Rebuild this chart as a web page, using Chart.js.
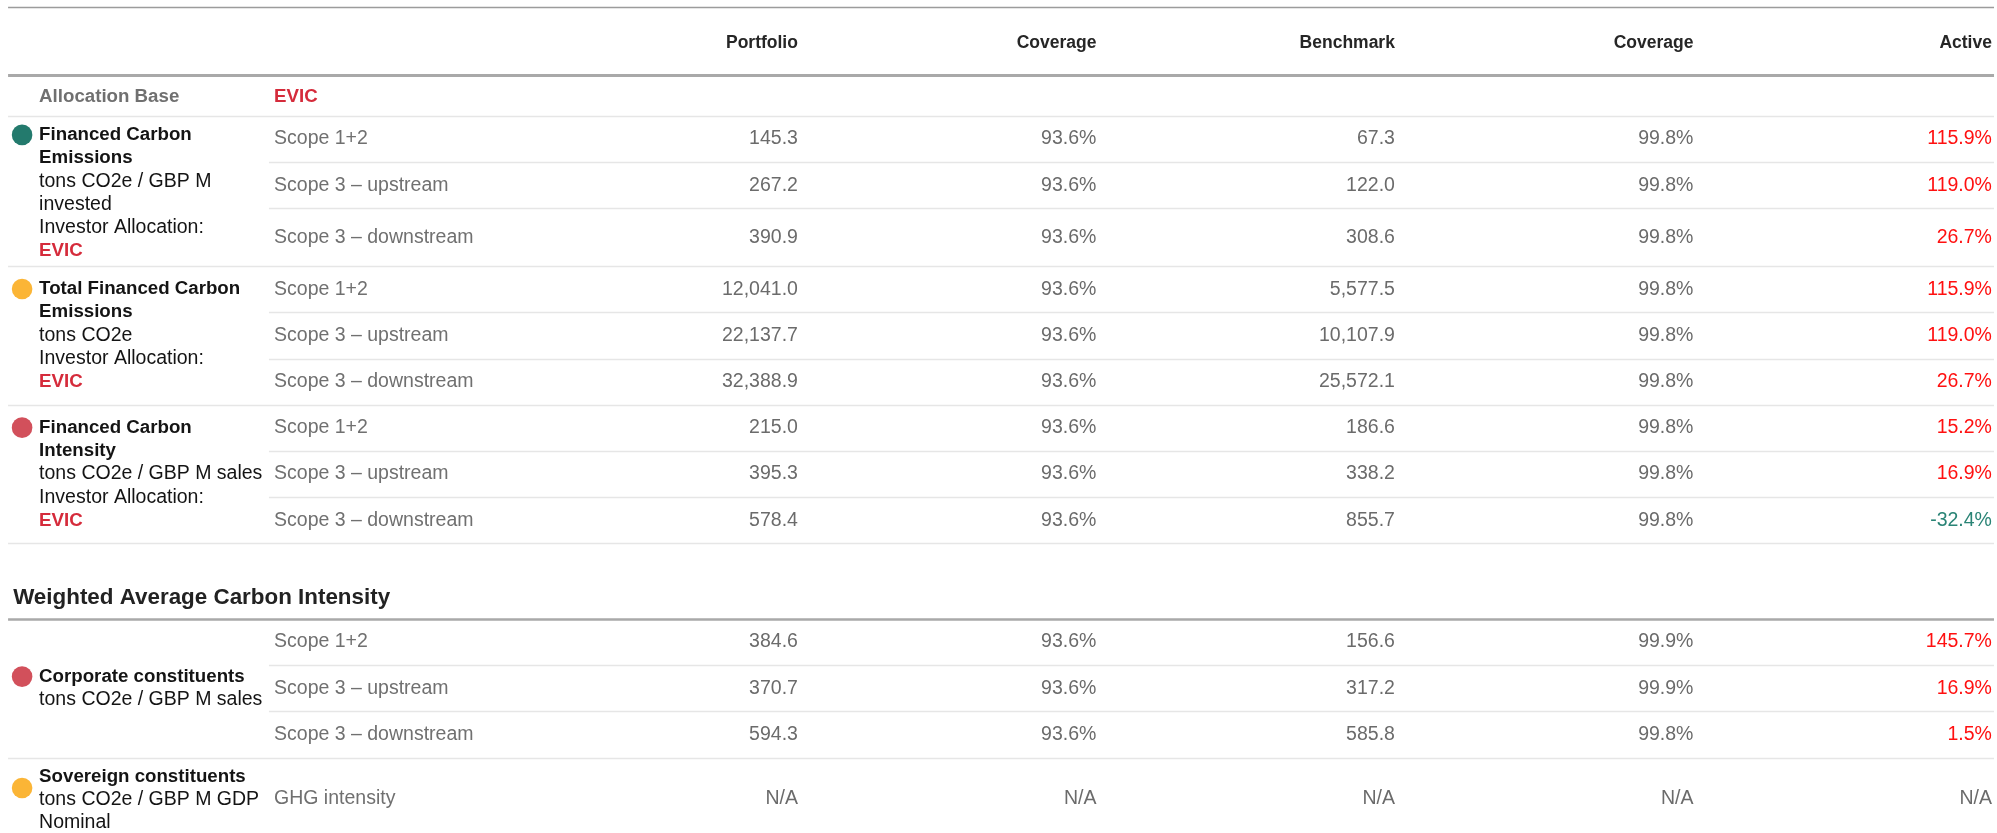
<!DOCTYPE html>
<html>
<head>
<meta charset="utf-8">
<title>Carbon metrics</title>
<script src="https://cdn.jsdelivr.net/npm/chart.js@4.4.1/dist/chart.umd.min.js"></script>
<style>
  html, body { margin: 0; padding: 0; background: #fff; }
  canvas { display: block; }
</style>
</head>
<body>
<canvas id="carbon-table" width="1997" height="833"></canvas>
<script>
// Titles and labels
const columnTitles = ['Portfolio', 'Coverage', 'Benchmark', 'Coverage', 'Active'];
const allocationLabel = 'Allocation Base';
const allocationBase = 'EVIC';
const sectionTitle = 'Weighted Average Carbon Intensity';

const groupTitles = [
    ['Financed Carbon', 'Emissions'],
    ['Total Financed Carbon', 'Emissions'],
    ['Financed Carbon', 'Intensity'],
    ['Corporate constituents'],
    ['Sovereign constituents']
];
const groupUnits = [
    ['tons CO2e / GBP M', 'invested', 'Investor Allocation:'],
    ['tons CO2e', 'Investor Allocation:'],
    ['tons CO2e / GBP M sales', 'Investor Allocation:'],
    ['tons CO2e / GBP M sales'],
    ['tons CO2e / GBP M GDP', 'Nominal']
];
const groupAllocation = ['EVIC', 'EVIC', 'EVIC', null, null];
const groupRowCounts = [3, 3, 3, 3, 1];

const scopeLabels = [
    'Scope 1+2', 'Scope 3 – upstream', 'Scope 3 – downstream',
    'Scope 1+2', 'Scope 3 – upstream', 'Scope 3 – downstream',
    'Scope 1+2', 'Scope 3 – upstream', 'Scope 3 – downstream',
    'Scope 1+2', 'Scope 3 – upstream', 'Scope 3 – downstream',
    'GHG intensity'
];

// Values (null = N/A)
const portfolio = [145.3, 267.2, 390.9, 12041.0, 22137.7, 32388.9, 215.0, 395.3, 578.4, 384.6, 370.7, 594.3, null];
const portfolioCoverage = [93.6, 93.6, 93.6, 93.6, 93.6, 93.6, 93.6, 93.6, 93.6, 93.6, 93.6, 93.6, null];
const benchmark = [67.3, 122.0, 308.6, 5577.5, 10107.9, 25572.1, 186.6, 338.2, 855.7, 156.6, 317.2, 585.8, null];
const benchmarkCoverage = [99.8, 99.8, 99.8, 99.8, 99.8, 99.8, 99.8, 99.8, 99.8, 99.9, 99.9, 99.8, null];
const active = [115.9, 119.0, 26.7, 115.9, 119.0, 26.7, 15.2, 16.9, -32.4, 145.7, 16.9, 1.5, null];

// Layout: x in value-column widths, y in data-row heights
const X = { max: 6.69, ruleLeft: 0.027, ruleRight: 6.68, subRuleLeft: 0.901,
            dot: 0.074, label: 0.131, scope: 0.918, title: 0.044, firstValueRight: 2.673 };
const Y = { max: 18.03, topRule: 0.152, headerH: 1.47, allocH: 0.888, sectionGap: 1.636,
            titleLift: 0.455, lineStep: 0.502, labelPad: 0.41 };
const rowHeights = [1, 1, 1.25, 1, 1, 1, 1, 1, 1, 1, 1, 1, 1.8];
const sectionStartRow = 9;
const dotShift = [0, 0, 0, 0, 0.5];

const FONT = '"Liberation Sans", Arial, Helvetica, sans-serif';
const fReg = '19.5px ' + FONT;
const fBold = 'bold 18.7px ' + FONT;
const fHead = 'bold 17.5px ' + FONT;
const fTitle = 'bold 22.4px ' + FONT;
const GREY = '#6b6b6b';
const INK = '#141414';
const EVIC_RED = '#d52b3b';
const UP_RED = '#ff1010';
const DOWN_GREEN = '#2a8476';
const groupColors = ['#237a6d', '#fbb536', '#d2505b', '#d2505b', '#fbb536'];

// row geometry
const headerBottom = Y.topRule + Y.headerH;
const allocBottom = headerBottom + Y.allocH;
const rowTop = [], rowBottom = [];
let cursor = allocBottom, sectionRule = 0;
rowHeights.forEach((h, i) => {
    if (i === sectionStartRow) { cursor += Y.sectionGap; sectionRule = cursor; }
    rowTop.push(cursor);
    cursor += h;
    rowBottom.push(cursor);
});
const rowMid = rowTop.map((t, i) => (t + rowBottom[i]) / 2);
const groupStart = [];
groupRowCounts.reduce((acc, n) => { groupStart.push(acc); return acc + n; }, 0);
const lastInGroup = rowHeights.map((_, i) => groupStart.includes(i + 1) || i === rowHeights.length - 1);

// left label lines
const labelPts = [], labelTexts = [], labelFonts = [], labelColors = [], dotPts = [];
groupTitles.forEach((title, g) => {
    const lines = [];
    title.forEach(t => lines.push([t, fBold, INK]));
    groupUnits[g].forEach(t => lines.push([t, fReg, INK]));
    if (groupAllocation[g]) lines.push([groupAllocation[g], fBold, EVIC_RED]);
    const top = rowTop[groupStart[g]];
    const bottom = rowBottom[groupStart[g] + groupRowCounts[g] - 1];
    const span = (lines.length - 1) * Y.lineStep;
    const first = Math.max(top + Y.labelPad, (top + bottom) / 2 - span / 2);
    lines.forEach((ln, k) => {
        labelPts.push({ x: X.label, y: first + k * Y.lineStep });
        labelTexts.push(ln[0]); labelFonts.push(ln[1]); labelColors.push(ln[2]);
    });
    dotPts.push({ x: X.dot, y: first + dotShift[g] * Y.lineStep });
});

const fmtNum = v => v == null ? 'N/A' : v.toLocaleString('en-US', { minimumFractionDigits: 1, maximumFractionDigits: 1 });
const fmtPct = v => v == null ? 'N/A' : v.toFixed(1) + '%';
const activeColor = v => v == null ? GREY : (v > 0 ? UP_RED : DOWN_GREEN);

const valueColumns = [
    portfolio.map(fmtNum), portfolioCoverage.map(fmtPct),
    benchmark.map(fmtNum), benchmarkCoverage.map(fmtPct), active.map(fmtPct)
];
const textSet = (data, texts, fonts, colors, align) => ({
    data, texts, fonts, colors, align, pointRadius: 0, pointHoverRadius: 0
});

const datasets = [
    { data: dotPts, backgroundColor: groupColors, borderWidth: 0, pointRadius: 10.3, pointHoverRadius: 10.3 },
    textSet(columnTitles.map((_, i) => ({ x: X.firstValueRight + i, y: Y.topRule + 0.78 })), columnTitles, fHead, '#262626', 'right'),
    textSet([{ x: X.label, y: (headerBottom + allocBottom) / 2 + 0.03 }, { x: X.scope, y: (headerBottom + allocBottom) / 2 + 0.03 }],
        [allocationLabel, allocationBase], fBold, ['#707070', EVIC_RED], 'left'),
    textSet([{ x: X.title, y: sectionRule - Y.titleLift }], [sectionTitle], fTitle, '#222222', 'left'),
    textSet(rowMid.map(y => ({ x: X.scope, y })), scopeLabels, fReg, '#707070', 'left'),
    textSet(labelPts, labelTexts, labelFonts, labelColors, 'left')
];
valueColumns.forEach((texts, c) => {
    datasets.push(textSet(rowMid.map(y => ({ x: X.firstValueRight + c, y })), texts, fReg,
        c === 4 ? active.map(activeColor) : GREY, 'right'));
});

// horizontal rules
const rules = {
    id: 'rules',
    beforeDatasetsDraw(chart) {
        const { ctx, scales: { x, y } } = chart;
        const hline = (yv, x0, color, w) => {
            const py = Math.round(y.getPixelForValue(yv)) + (w % 2 ? 0.5 : 0);
            ctx.beginPath();
            ctx.moveTo(x.getPixelForValue(x0), py);
            ctx.lineTo(x.getPixelForValue(X.ruleRight), py);
            ctx.strokeStyle = color;
            ctx.lineWidth = w;
            ctx.stroke();
        };
        ctx.save();
        hline(Y.topRule, X.ruleLeft, '#9c9c9c', 1.5);
        hline(headerBottom, X.ruleLeft, '#a9a9a9', 3);
        hline(allocBottom, X.ruleLeft, '#e6e6e6', 1.5);
        hline(sectionRule, X.ruleLeft, '#a9a9a9', 2.5);
        rowBottom.forEach((b, i) => hline(b, lastInGroup[i] ? X.ruleLeft : X.subRuleLeft, '#e6e6e6', 1.5));
        ctx.restore();
    }
};

// cell texts, drawn at the library's point positions
const cellText = {
    id: 'cellText',
    afterDatasetsDraw(chart) {
        const ctx = chart.ctx;
        chart.data.datasets.forEach((ds, i) => {
            if (!ds.texts) return;
            const meta = chart.getDatasetMeta(i);
            ctx.save();
            ctx.textBaseline = 'middle';
            ctx.textAlign = ds.align;
            meta.data.forEach((el, j) => {
                const t = ds.texts[j];
                if (t == null) return;
                ctx.font = Array.isArray(ds.fonts) ? ds.fonts[j] : ds.fonts;
                ctx.fillStyle = Array.isArray(ds.colors) ? ds.colors[j] : ds.colors;
                ctx.fillText(t, el.x, el.y);
            });
            ctx.restore();
        });
    }
};

const ctx = document.getElementById('carbon-table').getContext('2d');
const carbonTable = new Chart(ctx, {
    type: 'scatter',
    data: { datasets },
    options: {
        responsive: false,
        devicePixelRatio: 1,
        animation: false,
        events: [],
        layout: { padding: 0, autoPadding: false },
        plugins: { legend: { display: false }, tooltip: { enabled: false } },
        scales: {
            x: { type: 'linear', display: false, min: 0, max: X.max },
            y: { type: 'linear', display: false, min: 0, max: Y.max, reverse: true }
        }
    },
    plugins: [rules, cellText]
});
</script>
</body>
</html>
